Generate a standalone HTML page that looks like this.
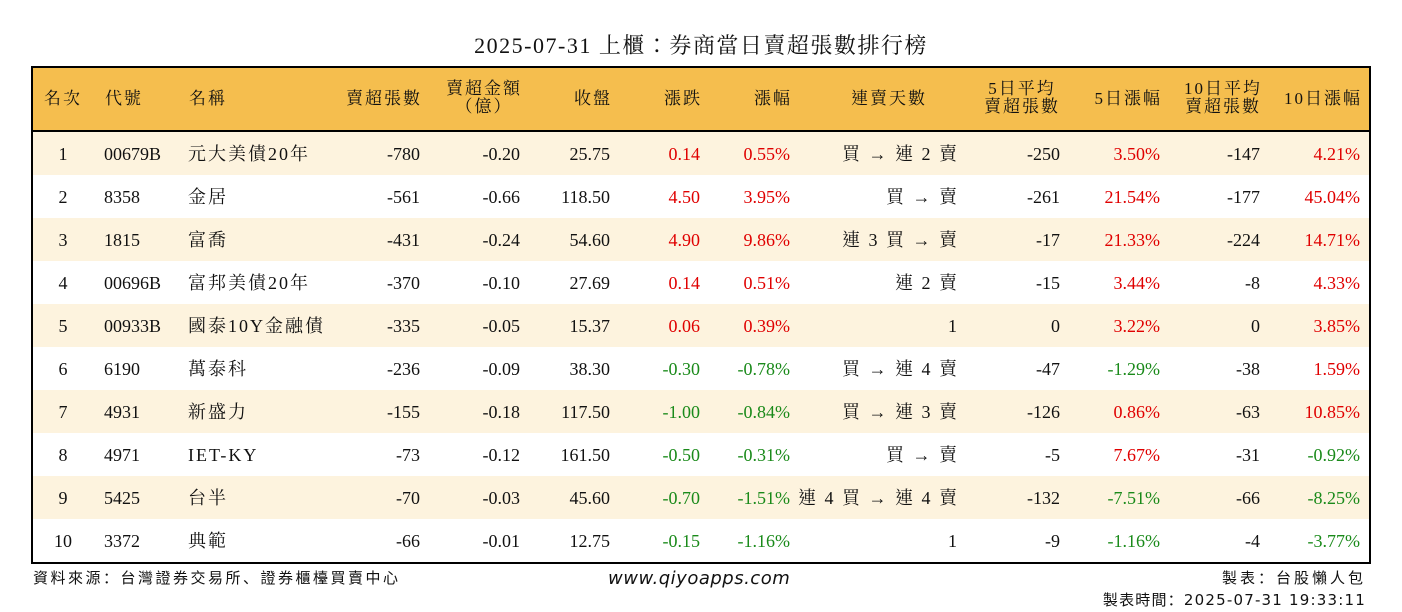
<!DOCTYPE html>
<html><head><meta charset="utf-8">
<style>
body{margin:0;width:1402px;height:612px;background:#fff;position:relative;overflow:hidden;font-family:"Liberation Serif","Noto Serif CJK TC","Noto Serif CJK SC",serif;color:#111}
.c{position:absolute;white-space:nowrap;line-height:20px;font-size:18px}
.cjk{letter-spacing:2px}
.h{font-size:17px;letter-spacing:2px;line-height:18px}
#title{position:absolute;left:0;width:1402px;top:29px;text-align:center;font-size:22px;letter-spacing:1.5px}
#tbl{position:absolute;left:31px;top:66px;width:1336px;height:494px;border:2px solid #000}
#hdr{position:absolute;left:0;top:0;width:1336px;height:62px;background:#F5BE4E;border-bottom:2px solid #000}
.row{position:absolute;left:0;width:1336px;height:43px}
.foot{position:absolute;font-family:"DejaVu Sans","Noto Sans CJK SC",sans-serif;font-size:15px;letter-spacing:2px;white-space:nowrap}
</style></head><body>
<div id="title">2025-07-31 上櫃：券商當日賣超張數排行榜</div>
<div id="tbl">
<div id="hdr"></div>
</div>
<div class="foot" style="left:33px;top:567px;letter-spacing:2.5px">資料來源：台灣證券交易所、證券櫃檯買賣中心</div>
<div class="foot" style="left:608px;top:568px;font-style:italic;font-size:18px;letter-spacing:0.5px">www.qiyoapps.com</div>
<div class="foot" style="right:36px;top:567px;letter-spacing:3px">製表：台股懶人包</div>
<div class="foot" style="right:36px;top:589px;letter-spacing:1.2px">製表時間：2025-07-31 19:33:11</div>
<script>
const ranks=["1","2","3","4","5","6","7","8","9","10"];
const codes=["00679B","8358","1815","00696B","00933B","6190","4931","4971","5425","3372"];
const names=["元大美債20年","金居","富喬","富邦美債20年","國泰10Y金融債","萬泰科","新盛力","IET-KY","台半","典範"];
const sellLots=[-780,-561,-431,-370,-335,-236,-155,-73,-70,-66];
const sellAmt=["-0.20","-0.66","-0.24","-0.10","-0.05","-0.09","-0.18","-0.12","-0.03","-0.01"];
const closes=["25.75","118.50","54.60","27.69","15.37","38.30","117.50","161.50","45.60","12.75"];
const changes=["0.14","4.50","4.90","0.14","0.06","-0.30","-1.00","-0.50","-0.70","-0.15"];
const pcts=["0.55%","3.95%","9.86%","0.51%","0.39%","-0.78%","-0.84%","-0.31%","-1.51%","-1.16%"];
const streaks=["買 → 連 2 賣","買 → 賣","連 3 買 → 賣","連 2 賣","1","買 → 連 4 賣","買 → 連 3 賣","買 → 賣","連 4 買 → 連 4 賣","1"];
const avg5=[-250,-261,-17,-15,0,-47,-126,-5,-132,-9];
const pct5=["3.50%","21.54%","21.33%","3.44%","3.22%","-1.29%","0.86%","7.67%","-7.51%","-1.16%"];
const avg10=[-147,-177,-224,-8,0,-38,-63,-31,-66,-4];
const pct10=["4.21%","45.04%","14.71%","4.33%","3.85%","1.59%","10.85%","-0.92%","-8.25%","-3.77%"];
const headers=[["名次",11,"l"],["代號",72,"l"],["名稱",156,"l"],["賣超張數",389,"r"],["賣超金額<br>（億）",489,"r2"],["收盤",579,"r"],["漲跌",669,"r"],["漲幅",759,"r"],["連賣天數",894,"r"],["5日平均<br>賣超張數",1027,"r2"],["5日漲幅",1129,"r"],["10日平均<br>賣超張數",1229,"r2"],["10日漲幅",1329,"r"]];
const tbl=document.getElementById('tbl'),hdr=document.getElementById('hdr');
headers.forEach((h,i)=>{const d=document.createElement('div');d.className='c h';


d.innerHTML=h[0];
const two=h[2]==='r2';
d.style.top=(two?12:22)+'px';
if(two)d.style.textAlign='center';
if(h[2]==='l')d.style.left=h[1]+'px';else d.style.right=(1336-h[1])+'px';
hdr.appendChild(d);});
const col=v=>String(v).startsWith('-')?'#1a8a1a':'#e00000';
for(let r=0;r<ranks.length;r++){
const row=document.createElement('div');row.className='row';


row.style.top=(64+r*43)+'px';row.style.background=r%2===0?'#FDF3DE':'#fff';
tbl.appendChild(row);
const cells=[[ranks[r],30,'c',null],[codes[r],71,'l',null],[names[r],155,'l',null,1],[sellLots[r],387,'r',null],[sellAmt[r],487,'r',null],[closes[r],577,'r',null],[changes[r],667,'r',col(changes[r])],[pcts[r],757,'r',col(pcts[r])],[streaks[r],926,'r',null,1],[avg5[r],1027,'r',null],[pct5[r],1127,'r',col(pct5[r])],[avg10[r],1227,'r',null],[pct10[r],1327,'r',col(pct10[r])]];
cells.forEach(c=>{const d=document.createElement('div');d.className='c'+(c[4]?' cjk':'');


d.textContent=c[0];d.style.top='12px';
if(c[2]==='l')d.style.left=c[1]+'px';
else if(c[2]==='c'){d.style.left=(c[1]-20)+'px';d.style.width='40px';d.style.textAlign='center';}
else d.style.right=(1336-c[1])+'px';
if(c[3])d.style.color=c[3];
row.appendChild(d);});
}
</script>
</body></html>
